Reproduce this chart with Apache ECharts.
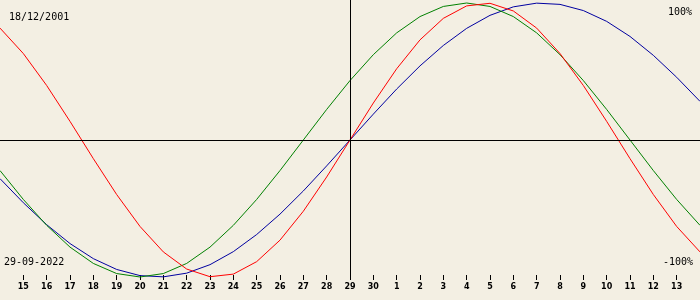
<!DOCTYPE html>
<html><head><meta charset="utf-8">
<script src="https://cdn.jsdelivr.net/npm/echarts@6/dist/echarts.min.js"></script>
<style>html,body{margin:0;padding:0;background:#f3efe3;}#c{width:700px;height:300px;}</style>
</head><body><div id="c"></div>
<script>
// day positions -1..29 (x index), labels for 0..28
const dayLabels = [15,16,17,18,19,20,21,22,23,24,25,26,27,28,29,30,1,2,3,4,5,6,7,8,9,10,11,12,13];
const xIndex = [-1,0,1,2,3,4,5,6,7,8,9,10,11,12,13,14,15,16,17,18,19,20,21,22,23,24,25,26,27,28,29];
const physical = [81.7,63.1,39.8,13.6,-13.6,-39.8,-63.1,-81.7,-94.2,-99.8,-97.9,-88.8,-73.1,-52.0,-27.0,0,27.0,52.0,73.1,88.8,97.9,99.8,94.2,81.7,63.1,39.8,13.6,-13.6,-39.8,-63.1,-81.7];
const emotional = [-22.3,-43.4,-62.3,-78.2,-90.1,-97.5,-100,-97.5,-90.1,-78.2,-62.3,-43.4,-22.3,0,22.3,43.4,62.3,78.2,90.1,97.5,100,97.5,90.1,78.2,62.3,43.4,22.3,0,-22.3,-43.4,-62.3];
const intellectual = [-28.2,-45.8,-61.8,-75.6,-86.6,-94.5,-99.0,-99.9,-97.2,-91.0,-81.5,-69.0,-54.1,-37.2,-18.9,0,18.9,37.2,54.1,69.0,81.5,91.0,97.2,99.9,99.0,94.5,86.6,75.6,61.8,45.8,28.2];
const birthDate = '18/12/2001';
const currentDate = '29-09-2022';
const todayIndex = 14;
const tickIdx = dayLabels.map((d,i)=>i);

const chart = echarts.init(document.getElementById('c'), null, {renderer:'canvas'});
const mk = (arr)=>xIndex.map((x,i)=>[x,arr[i]]);
const lineSeries = (name, arr, color, extra) => Object.assign({
  name, type:'line', data: mk(arr), showSymbol:false, symbol:'none', silent:true,
  lineStyle:{color, width:1}, animation:false, z:3
}, extra||{});
chart.setOption({
  backgroundColor:'#f3efe3',
  animation:false,
  grid:{left:0,right:0,top:0,height:280},
  xAxis:{type:'value',min:-1,max:29,interval:1,offset:-5,
    axisLine:{show:false,onZero:false},splitLine:{show:false},
    axisTick:{show:true,length:5,customValues:tickIdx,lineStyle:{color:'#000',width:1}},
    axisLabel:{show:true,customValues:tickIdx,margin:8,color:'#000',fontSize:8,fontWeight:'bold',fontFamily:'DejaVu Sans',
      formatter:(v)=>{const i=Math.round(v);return (i>=0&&i<dayLabels.length)?String(dayLabels[i]):'';}}},
  yAxis:{type:'value',min:-102.2,max:102.2,show:false},
  series:[
    lineSeries('refs',[], '#000', {data:[], markLine:{silent:true,symbol:['none','none'],label:{show:false},
      lineStyle:{color:'#000',width:1,type:'solid'},data:[{xAxis:todayIndex},{yAxis:0}]}}),
    lineSeries('intellectual', intellectual, '#0000a0'),
    lineSeries('emotional', emotional, '#008000'),
    lineSeries('physical', physical, '#ff0000')
  ],
  graphic:[
    {type:'text',left:9,top:12,style:{text:birthDate,fill:'#000',font:'10px "DejaVu Sans Mono"'}},
    {type:'text',left:4,top:257,style:{text:currentDate,fill:'#000',font:'10px "DejaVu Sans Mono"'}},
    {type:'text',right:8,top:7,style:{text:'100%',fill:'#000',font:'10px "DejaVu Sans Mono"'}},
    {type:'text',right:7,top:257,style:{text:'-100%',fill:'#000',font:'10px "DejaVu Sans Mono"'}}
  ]
});
</script></body></html>
